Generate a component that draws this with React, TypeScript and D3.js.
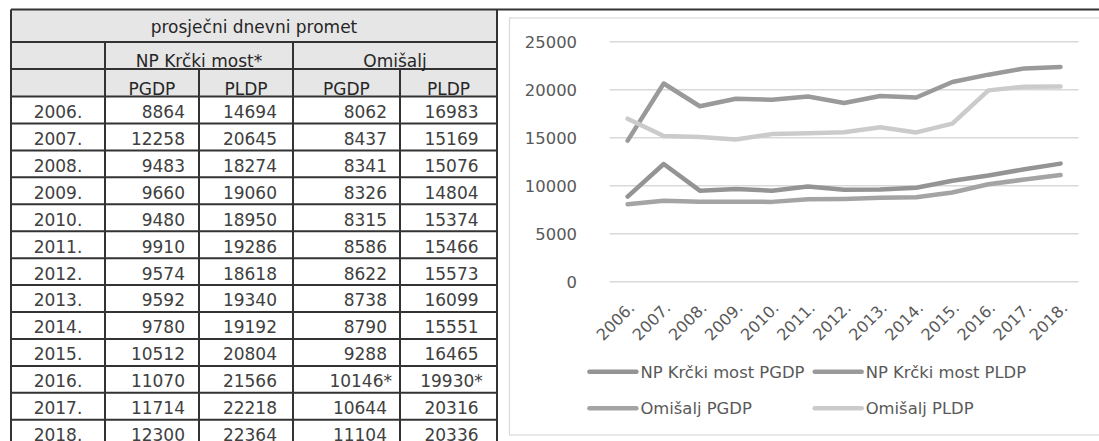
import React from 'react';
import * as d3 from 'd3';

const years = ['2006.', '2007.', '2008.', '2009.', '2010.', '2011.', '2012.', '2013.', '2014.', '2015.', '2016.', '2017.', '2018.'];
const npPGDP = [8864, 12258, 9483, 9660, 9480, 9910, 9574, 9592, 9780, 10512, 11070, 11714, 12300];
const npPLDP = [14694, 20645, 18274, 19060, 18950, 19286, 18618, 19340, 19192, 20804, 21566, 22218, 22364];
const omPGDP = [8062, 8437, 8341, 8326, 8315, 8586, 8622, 8738, 8790, 9288, 10146, 10644, 11104];
const omPLDP = [16983, 15169, 15076, 14804, 15374, 15466, 15573, 16099, 15551, 16465, 19930, 20316, 20336];
const starredYears = ['2016.'];
const yTicks = [0, 5000, 10000, 15000, 20000, 25000];
const seriesNames = ['NP Krčki most PGDP', 'NP Krčki most PLDP', 'Omišalj PGDP', 'Omišalj PLDP'];
const tableTitle = 'prosječni dnevni promet';
const groupNames = ['NP Krčki most*', 'Omišalj'];
const subNames = ['PGDP', 'PLDP', 'PGDP', 'PLDP'];

const FONT = '"DejaVu Sans", sans-serif';
const colX = [11, 105, 199, 293, 400, 497];
const hdrY = [9.5, 42, 69, 96.5];
const rowH = 26.94;
const LINE = '#333333';

const seriesColors = ['#949494', '#9a9a9a', '#a4a4a4', '#cbcbcb'];

export default function App() {
  const series = [npPGDP, npPLDP, omPGDP, omPLDP];
  const x = d3.scaleBand<string>().domain(years).range([609.6, 1078.6]);
  const y = d3.scaleLinear().domain([0, 25000]).range([281.7, 41.7]);
  const cx = (yr: string) => (x(yr) as number) + x.bandwidth() / 2;
  const line = d3
    .line<number>()
    .x((_, i) => cx(years[i]))
    .y((d) => y(d));

  const dataTop = hdrY[3];
  const rows = years.map((yr, i) => {
    const top = dataTop + i * rowH;
    const base = top + 21.4;
    const star = starredYears.includes(yr);
    return (
      <g key={yr} fontFamily={FONT} fontSize={17} fill="#404040">
        <text x={(colX[0] + colX[1]) / 2} y={base} textAnchor="middle">{yr}</text>
        <text x={185} y={base} textAnchor="end">{npPGDP[i]}</text>
        <text x={277} y={base} textAnchor="end">{npPLDP[i]}</text>
        <text x={star ? 392 : 387} y={base} textAnchor="end">{omPGDP[i] + (star ? '*' : '')}</text>
        <text x={451.5} y={base} textAnchor="middle">{omPLDP[i] + (star ? '*' : '')}</text>
      </g>
    );
  });

  const hLines: number[] = [hdrY[1], hdrY[2], hdrY[3]];
  years.forEach((_, i) => hLines.push(dataTop + (i + 1) * rowH));

  return (
    <svg width={1099} height={441} style={{ position: 'absolute', left: 0, top: 0, background: '#fff' }}>
      <rect x={colX[0]} y={hdrY[0]} width={colX[5] - colX[0]} height={hdrY[3] - hdrY[0]} fill="#e7e6e6" />
      <line x1={colX[0]} x2={1099} y1={hdrY[0]} y2={hdrY[0]} stroke={LINE} strokeWidth={2} />
      {hLines.map((yy, i) => (
        <line key={i} x1={colX[0]} x2={colX[5]} y1={yy} y2={yy} stroke={LINE} strokeWidth={2} />
      ))}
      <line x1={colX[0]} x2={colX[0]} y1={hdrY[0]} y2={441} stroke={LINE} strokeWidth={2} />
      <line x1={colX[5]} x2={colX[5]} y1={hdrY[0]} y2={441} stroke={LINE} strokeWidth={2} />
      <line x1={colX[1]} x2={colX[1]} y1={hdrY[1]} y2={441} stroke={LINE} strokeWidth={2} />
      <line x1={colX[3]} x2={colX[3]} y1={hdrY[1]} y2={441} stroke={LINE} strokeWidth={2} />
      <line x1={colX[2]} x2={colX[2]} y1={hdrY[2]} y2={441} stroke={LINE} strokeWidth={2} />
      <line x1={colX[4]} x2={colX[4]} y1={hdrY[2]} y2={441} stroke={LINE} strokeWidth={2} />
      <g fontFamily={FONT} fontSize={17} fill="#262626" textAnchor="middle">
        <text x={(colX[0] + colX[5]) / 2} y={hdrY[1] - 9}>{tableTitle}</text>
        <text x={(colX[1] + colX[3]) / 2} y={hdrY[2] - 2}>{groupNames[0]}</text>
        <text x={(colX[3] + colX[5]) / 2} y={hdrY[2] - 2}>{groupNames[1]}</text>
        {subNames.map((s, i) => (
          <text key={i} x={(colX[i + 1] + colX[i + 2]) / 2} y={hdrY[3] - 2}>{s}</text>
        ))}
      </g>
      {rows}

      <rect x={509.5} y={18} width={700} height={417} fill="#fff" stroke="#d9d9d9" strokeWidth={1.2} />
      {yTicks.map((t) => (
        <g key={t}>
          <line x1={609.6} x2={1078.6} y1={y(t)} y2={y(t)} stroke="#d9d9d9" strokeWidth={1.5} />
          <text x={577} y={y(t)} dy="0.36em" textAnchor="end" fontFamily={FONT} fontSize={16.4} fill="#595959">{t}</text>
        </g>
      ))}
      {series.map((s, i) => (
        <path key={i} d={line(s) || ''} fill="none" stroke={seriesColors[i]} strokeWidth={4.5} strokeLinecap="round" strokeLinejoin="round" />
      ))}
      {years.map((yr) => (
        <text key={yr} transform={`translate(${cx(yr) + 8},${309}) rotate(-45)`} textAnchor="end" fontFamily={FONT} fontSize={16} fill="#595959">{yr}</text>
      ))}
      {seriesNames.map((name, i) => {
        const lx = i % 2 === 0 ? 589.4 : 814.7;
        const ly = i < 2 ? 371.7 : 408.3;
        return (
          <g key={name}>
            <line x1={lx} x2={lx + 47} y1={ly} y2={ly} stroke={seriesColors[i]} strokeWidth={4.5} strokeLinecap="round" />
            <text x={lx + 51} y={ly} dy="0.36em" fontFamily={FONT} fontSize={16.4} fill="#595959">{name}</text>
          </g>
        );
      })}
    </svg>
  );
}
